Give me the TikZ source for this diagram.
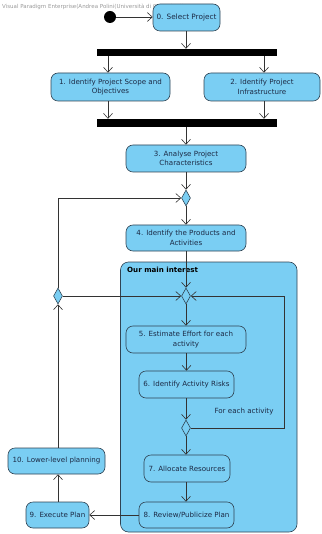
\documentclass[tikz,border=0pt]{standalone}
\usepackage{fontspec}
\setmainfont{DejaVu Sans}
\usetikzlibrary{arrows.meta,shapes.geometric,calc}
\definecolor{actfill}{HTML}{7ACEF3}
\definecolor{bordercol}{HTML}{2F4353}
\definecolor{textcol}{HTML}{1C2A45}
\definecolor{linecol}{HTML}{333333}
\tikzset{
  act/.style={draw=bordercol,fill=actfill,rounded corners=7pt,text=textcol,
    font=\fontsize{7.1}{9.3}\selectfont,align=center,inner sep=0pt,line width=0.6pt},
  forkbar/.style={fill=black,draw=none,inner sep=0pt,minimum width=180pt},
  dec/.style={diamond,draw=bordercol,fill=actfill,inner sep=0pt,minimum width=9pt,
    minimum height=16pt,line width=0.6pt},
  arr/.style={draw=linecol,line width=0.6pt,-{Straight Barb[length=5pt,width=9pt]}},
  ln/.style={draw=linecol,line width=0.6pt},
}
\begin{document}
\begin{tikzpicture}[x=1pt,y=-1pt]
\useasboundingbox (0,0) rectangle (321,534);
% partition
\draw[draw=bordercol,fill=actfill,line width=0.6pt,rounded corners=8pt]
  (120.5,262) rectangle (297,532);
\node[anchor=west,font=\fontsize{7.1}{8}\selectfont\bfseries,text=black,inner sep=0pt] (plabel) at (127,270) {Our main interest};
% watermark
\node[anchor=west,font=\fontsize{5.5}{6}\selectfont,text=gray!80,inner sep=0pt] (wm) at (2,7)
  {Visual Paradigm Enterprise(Andrea Polini(Università di Camerino))};
% initial
\node[circle,fill=black,minimum size=12pt,inner sep=0pt] (init) at (110,17) {};
% activities
\node[act,minimum width=67pt,minimum height=27pt,font=\fontsize{7.3}{9}\selectfont] (n0) at (186.5,17.5) {0. Select Project};
\node[forkbar,minimum height=7pt] (f1) at (187,52.5) {};
\node[act,minimum width=119pt,minimum height=28pt] (n1) at (110.5,87) {1. Identify Project Scope and\\Objectives};
\node[act,minimum width=116pt,minimum height=28pt] (n2) at (262,87) {2. Identify Project\\Infrastructure};
\node[forkbar,minimum height=8pt] (f2) at (187,123) {};
\node[act,minimum width=120pt,minimum height=27pt] (n3) at (186,158.5) {3. Analyse Project\\Characteristics};
\node[dec] (d1) at (186,198) {};
\node[act,minimum width=120pt,minimum height=26pt] (n4) at (186,238) {4. Identify the Products and\\Activities};
\node[dec] (d2) at (58,296) {};
\node[dec] (d3) at (186,296) {};
\node[act,minimum width=120pt,minimum height=27pt] (n5) at (186,339.5) {5. Estimate Effort for each\\activity};
\node[act,minimum width=95pt,minimum height=27pt] (n6) at (186.5,384.5) {6. Identify Activity Risks};
\node[dec] (d4) at (186,428) {};
\node[text=textcol,font=\fontsize{7.1}{8}\selectfont,inner sep=0pt] (fe) at (244,412) {For each activity};
\node[act,minimum width=86pt,minimum height=27pt] (n7) at (187,468.5) {7. Allocate Resources};
\node[act,minimum width=95pt,minimum height=26pt] (n8) at (186.5,515) {8. Review/Publicize Plan};
\node[act,minimum width=63pt,minimum height=26pt] (n9) at (57.5,515) {9. Execute Plan};
\node[act,minimum width=97pt,minimum height=26pt] (n10) at (56.5,461) {10. Lower-level planning};
\coordinate (lt) at (284,296);
\coordinate (lb) at (284,428);
% connectors
\draw[arr] (init) -- (n0.west |- init);
\draw[arr] (n0.south -| 186,0) -- (f1.north -| 186,0);
\draw[arr] (f1.south -| 108,0) -- (n1.north -| 108,0);
\draw[arr] (f1.south -| 264,0) -- (n2.north -| 264,0);
\draw[arr] (n1.south -| 108,0) -- (f2.north -| 108,0);
\draw[arr] (n2.south -| 264,0) -- (f2.north -| 264,0);
\draw[arr] (f2.south -| n3) -- (n3.north);
\draw[arr] (n3.south) -- (d1.north);
\draw[arr] (d1.south) -- (n4.north);
\draw[arr] (n4.south) -- (d3.north);
\draw[arr] (d3.south) -- (n5.north);
\draw[arr] (n5.south -| n6) -- (n6.north);
\draw[arr] (n6.south -| d4) -- (d4.north);
\draw[arr] (d4.south) -- (n7.north -| d4);
\draw[arr] (n7.south -| d4) -- (n8.north -| d4);
\draw[arr] (n8.west) -- (n9.east);
\draw[arr] (n9.north -| d2) -- (n10.south -| d2);
\draw[arr] (n10.north -| d2) -- (d2.south);
\draw[arr] (d2.east) -- (d3.west);
\draw[arr] (d2.north) |- (d1.west);
\draw[arr] (d4.east) -- (lb) -- (lt) -- (d3.east);
\end{tikzpicture}
\end{document}
